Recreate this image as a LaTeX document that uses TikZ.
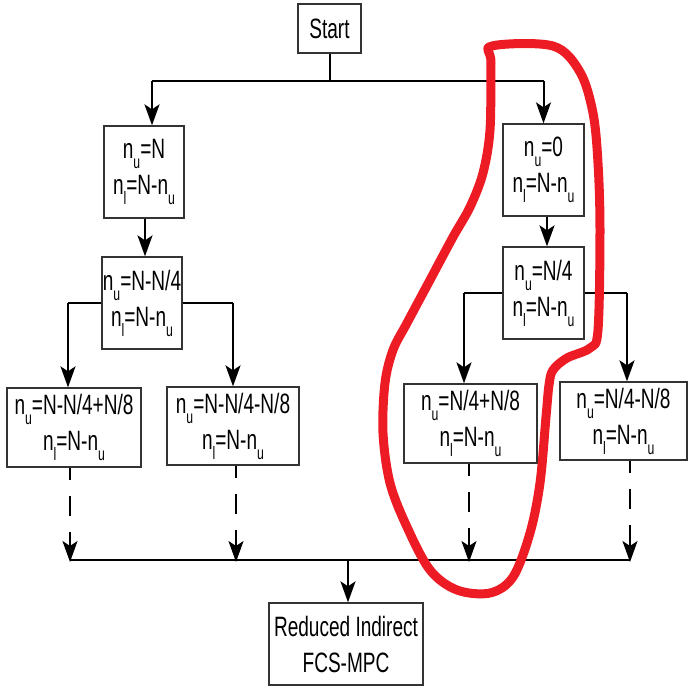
\documentclass[tikz,border=0pt]{standalone}
\usepackage{fontspec}
\setmainfont{Liberation Sans}[FakeStretch=0.68]
\usetikzlibrary{arrows.meta}
\newcommand\sbs[1]{\raisebox{-0.36em}{\fontsize{18}{18}\selectfont #1}}
\definecolor{loopred}{HTML}{ED1C24}
\tikzset{
  box/.style={draw=black!80, line width=1.3pt, inner sep=0pt, align=center,
    font=\fontsize{28}{36}\selectfont},
  conn/.style={line width=2pt, black},
  arr/.style={conn, -{Stealth[length=21pt,width=15pt,inset=5pt]}},
  darr/.style={arr, dash pattern=on 12pt off 16pt on 20pt off 16pt on 40pt},
}
\begin{document}
\begin{tikzpicture}[x=1pt,y=-1pt]
\useasboundingbox (0,0) rectangle (688,689);
% boxes
\node[box, minimum width=63pt, minimum height=49pt] (start) at (329.5,28.5) {Start};
\node[box, minimum width=80pt, minimum height=92pt] (b1) at (144,172) {n\sbs{u}=N\\n\sbs{l}=N-n\sbs{u}};
\node[box, minimum width=80pt, minimum height=92pt] (b2) at (142,303) {n\sbs{u}=N-N/4\\n\sbs{l}=N-n\sbs{u}};
\node[box, minimum width=134pt, minimum height=79pt] (b3) at (74,427.5) {n\sbs{u}=N-N/4+N/8\\n\sbs{l}=N-n\sbs{u}};
\node[box, minimum width=132pt, minimum height=78pt] (b4) at (233,426) {n\sbs{u}=N-N/4-N/8\\n\sbs{l}=N-n\sbs{u}};
\node[box, minimum width=81pt, minimum height=92pt] (b5) at (543.5,170) {n\sbs{u}=0\\n\sbs{l}=N-n\sbs{u}};
\node[box, minimum width=81pt, minimum height=92pt] (b6) at (543.5,293) {n\sbs{u}=N/4\\n\sbs{l}=N-n\sbs{u}};
\node[box, minimum width=133pt, minimum height=79pt] (b7) at (470.5,423.5) {n\sbs{u}=N/4+N/8\\n\sbs{l}=N-n\sbs{u}};
\node[box, minimum width=127pt, minimum height=78pt] (b8) at (623.5,421) {n\sbs{u}=N/4-N/8\\n\sbs{l}=N-n\sbs{u}};
\node[box, minimum width=154pt, minimum height=82pt] (fin) at (346,644) {Reduced Indirect\\FCS-MPC};
% junction coordinates
\coordinate (jt) at (329.5,81);
\coordinate (jl) at (152,81);
\coordinate (jr) at (543.5,81);
\coordinate (l2) at (68,303);
\coordinate (r2) at (233,303);
\coordinate (l6) at (464,293);
\coordinate (r6) at (627,293);
\coordinate (d3) at (70,560);
\coordinate (d4) at (236,560);
\coordinate (d7) at (469,560);
\coordinate (d8) at (630,560);
\coordinate (jb) at (348,560);
% connectors
\draw[conn] (start.south) -- (jt);
\draw[conn] (jl) -- (jr);
\draw[arr] (jl) -- (jl |- b1.north);
\draw[arr] (jr) -- (b5.north);
\draw[arr] (b1.south -| 145,0) -- (b2.north -| 145,0);
\draw[arr] (b5.south -| 547,0) -- (b6.north -| 547,0);
\draw[conn] (b2.west |- l2) -- (l2);
\draw[arr] (l2) -- (l2 |- b3.north);
\draw[conn] (b2.east |- r2) -- (r2);
\draw[arr] (r2) -- (r2 |- b4.north);
\draw[conn] (b6.west |- l6) -- (l6);
\draw[arr] (l6) -- (l6 |- b7.north);
\draw[conn] (b6.east |- r6) -- (r6);
\draw[arr] (r6) -- (r6 |- b8.north);
\draw[darr] (d3 |- b3.south) -- ([yshift=-2pt]d3);
\draw[darr] (d4 |- b4.south) -- ([yshift=-2pt]d4);
\draw[darr] (d7 |- b7.south) -- ([yshift=-2pt]d7);
\draw[darr] (d8 |- b8.south) -- ([yshift=-2pt]d8);
\draw[conn] (d3) -- (d8);
\draw[arr] (jb) -- (jb |- fin.north);
% red loop
\draw[loopred, line width=9pt, line join=round] plot[smooth cycle, tension=0.55] coordinates {
 (492,46) (553,46) (580,72) (593,113) (598,163) (600,230) (598,330) (590,348)
 (567,358) (553,370) (549,385) (546,417) (540,483) (530,533) (513,577) (490,593)
 (457,590) (430,570) (407,527) (390,483) (383,433) (385,383) (393,350) (407,323)
 (430,280) (453,237) (470,207) (483,173) (490,130) (491,63)};
\end{tikzpicture}
\end{document}
